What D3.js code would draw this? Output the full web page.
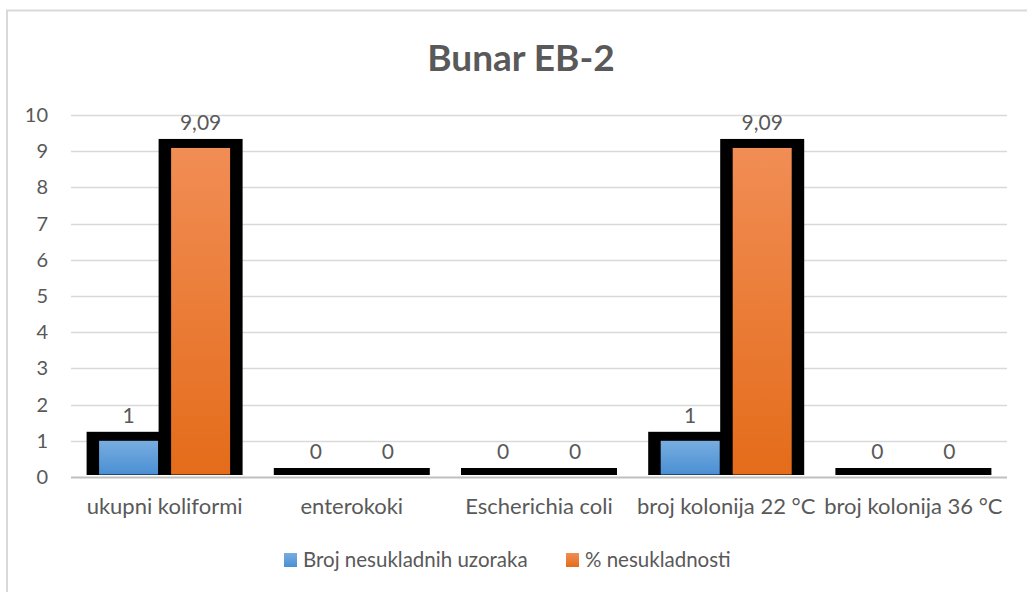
<!DOCTYPE html>
<html>
<head>
<meta charset="utf-8">
<script src="https://cdn.jsdelivr.net/npm/d3@7"></script>
<style>
  html, body { margin: 0; padding: 0; background: #fff; }
  svg { display: block; font-family: Lato, "Open Sans", sans-serif; }
</style>
</head>
<body>
<svg id="chart" width="1027" height="592"></svg>
<script>
// Categories and series
const categories = ["ukupni koliformi", "enterokoki", "Escherichia coli", "broj kolonija 22 °C", "broj kolonija 36 °C"];
const seriesNames = ["Broj nesukladnih uzoraka", "% nesukladnosti"];
const brojNesukladnih = [1, 0, 0, 1, 0];
const postoNesukladnosti = [9.09, 0, 0, 9.09, 0];
const labelsBroj = ["1", "0", "0", "1", "0"];
const labelsPosto = ["9,09", "0", "0", "9,09", "0"];
const yTicks = [0, 1, 2, 3, 4, 5, 6, 7, 8, 9, 10];

const svg = d3.select("#chart");
const W = 1027, H = 592;
const plot = { left: 71, right: 1007, top: 115, bottom: 477 };
const textColor = "#595959";

// Outer chart frame (only left and top edges fall inside the canvas)
svg.append("path")
  .attr("d", `M7,${H} L7,10.5 L${W},10.5`)
  .attr("fill", "none").attr("stroke", "#d9d9d9").attr("stroke-width", 2);

// Gradients
const defs = svg.append("defs");
const grads = [
  { id: "gBlue", top: "#78ade0", bottom: "#4a8fd4" },
  { id: "gOrange", top: "#f18d55", bottom: "#e46c1a" }
];
grads.forEach(g => {
  const lg = defs.append("linearGradient").attr("id", g.id)
    .attr("x1", 0).attr("y1", 0).attr("x2", 0).attr("y2", 1);
  lg.append("stop").attr("offset", "0%").attr("stop-color", g.top);
  lg.append("stop").attr("offset", "100%").attr("stop-color", g.bottom);
});

// Title
svg.append("text")
  .attr("x", 521).attr("y", 71)
  .attr("text-anchor", "middle")
  .attr("font-size", 37).attr("font-weight", "bold")
  .attr("fill", textColor)
  .text("Bunar EB-2");

// Scales
const x = d3.scaleBand().domain(categories).range([plot.left, plot.right]).paddingInner(0).paddingOuter(0);
const y = d3.scaleLinear().domain([0, 10]).range([plot.bottom, plot.top]);
const sub = d3.scaleBand().domain(seriesNames).range([0, 144]);

// Gridlines
svg.append("g").selectAll("line")
  .data(yTicks.filter(t => t > 0))
  .join("line")
  .attr("x1", plot.left).attr("x2", plot.right)
  .attr("y1", d => Math.round(y(d)) + 0.5).attr("y2", d => Math.round(y(d)) + 0.5)
  .attr("stroke", "#d9d9d9").attr("stroke-width", 1.5);

// Y axis labels
const yAxis = d3.axisLeft(y).tickValues(yTicks).tickSize(0).tickPadding(0).tickFormat(d3.format("d"));
const yg = svg.append("g").attr("transform", `translate(48,0)`).call(yAxis);
yg.select(".domain").remove();
yg.selectAll("text").attr("font-size", 20).attr("fill", textColor).attr("font-family", "Lato, sans-serif");

// Bars
const series = [
  { name: seriesNames[0], values: brojNesukladnih, labels: labelsBroj, fill: "url(#gBlue)" },
  { name: seriesNames[1], values: postoNesukladnosti, labels: labelsPosto, fill: "url(#gOrange)" }
];
const barsG = svg.append("g");
series.forEach(s => {
  const g = barsG.append("g");
  categories.forEach((c, i) => {
    const cx = x(c) + x.bandwidth() / 2 - 72;
    const x0 = cx + sub(s.name);
    const x1 = x0 + sub.bandwidth();
    const yt = y(s.values[i]);
    // heavy black outline
    g.append("rect")
      .attr("x", x0 - 6).attr("y", yt - 9)
      .attr("width", x1 - x0 + 12).attr("height", (plot.bottom - 2) - (yt - 9))
      .attr("fill", "#000");
    // gradient fill
    if (s.values[i] > 0) {
      g.append("rect")
        .attr("x", x0 + 6.5).attr("y", yt)
        .attr("width", x1 - x0 - 13).attr("height", (plot.bottom - 2.5) - yt)
        .attr("fill", s.fill);
    }
    // value label
    svg.append("text")
      .attr("x", (x0 + x1) / 2).attr("y", yt - 18)
      .attr("text-anchor", "middle")
      .attr("font-size", 21).attr("fill", textColor)
      .text(s.labels[i]);
  });
});

// Category axis line
svg.append("line")
  .attr("x1", plot.left).attr("x2", plot.right)
  .attr("y1", plot.bottom + 0.5).attr("y2", plot.bottom + 0.5)
  .attr("stroke", "#bfbfbf").attr("stroke-width", 2);

// Category labels
const xAxis = d3.axisBottom(x).tickSize(0).tickPadding(0);
const xg = svg.append("g").attr("transform", `translate(0,${plot.bottom + 37})`).call(xAxis);
xg.select(".domain").remove();
xg.selectAll("text").attr("font-size", 22).attr("fill", textColor).attr("font-family", "Lato, sans-serif").attr("dy", 0);

// Legend
const legend = svg.append("g");
const legendItems = [
  { name: seriesNames[0], fill: "url(#gBlue)", x: 284 },
  { name: seriesNames[1], fill: "url(#gOrange)", x: 566 }
];
legendItems.forEach(it => {
  legend.append("rect").attr("x", it.x).attr("y", 553).attr("width", 13).attr("height", 14).attr("fill", it.fill);
  legend.append("text").attr("x", it.x + 19).attr("y", 567)
    .attr("font-size", 20.5).attr("fill", textColor).text(it.name);
});
</script>
</body>
</html>
